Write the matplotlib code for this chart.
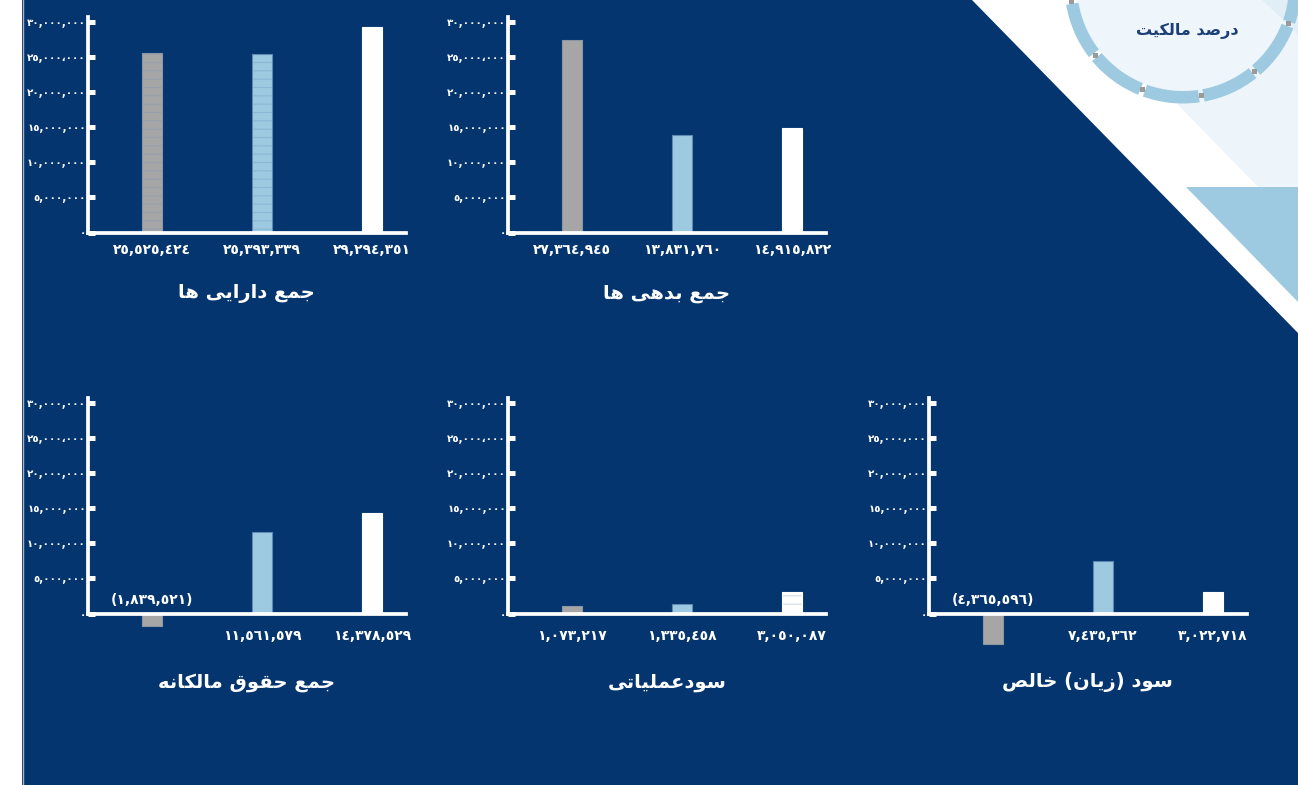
import math
import matplotlib
matplotlib.use("Agg")
import matplotlib.pyplot as plt
from matplotlib.patches import Polygon, Rectangle, Wedge, Circle
from matplotlib import font_manager, ft2font

# ---------------- data ----------------
titles = ["جمع دارایی ها", "جمع بدهی ها", "جمع حقوق مالکانه", "سودعملیاتی", "سود (زیان) خالص"]
total_assets = [25525424, 25393339, 29294351]
total_liabilities = [27364945, 13831760, 14915822]
total_equity = [-1839521, 11561579, 14378529]
operating_profit = [1073217, 1335458, 3050087]
net_profit = [-4365596, 7435362, 3022718]
y_ticks = [0, 5000000, 10000000, 15000000, 20000000, 25000000, 30000000]
y_tick_labels = ["٠", "٥,٠٠٠,٠٠٠", "١٠,٠٠٠,٠٠٠", "١٥,٠٠٠,٠٠٠", "٢٠,٠٠٠,٠٠٠", "٢٥,٠٠٠،٠٠٠", "٣٠,٠٠٠,٠٠٠"]
badge_text = "درصد مالکیت"

# ---------------- style ----------------
W, H = 1298, 785
BG = "#04356F"
BAR_COLORS = ["#A6A6A6", "#9ECAE1", "#FFFFFF"]
EDGE_COLORS = ["#8C96A3", "#5F89B4", "#FFFFFF"]
HATCH_COLORS = ["#97A0AC", "#8CB8D6", "#D3DAE6"]
FONT = ["DejaVu Sans"]

# ---------- minimal Arabic/Persian shaping (matplotlib has no shaping) ----------
FORMS = {
    "ا": (0xFE8D, 0xFE8E, None, None), "ب": (0xFE8F, 0xFE90, 0xFE91, 0xFE92),
    "ت": (0xFE95, 0xFE96, 0xFE97, 0xFE98), "ج": (0xFE9D, 0xFE9E, 0xFE9F, 0xFEA0),
    "ح": (0xFEA1, 0xFEA2, 0xFEA3, 0xFEA4), "خ": (0xFEA5, 0xFEA6, 0xFEA7, 0xFEA8),
    "د": (0xFEA9, 0xFEAA, None, None), "ر": (0xFEAD, 0xFEAE, None, None),
    "ز": (0xFEAF, 0xFEB0, None, None), "س": (0xFEB1, 0xFEB2, 0xFEB3, 0xFEB4),
    "ص": (0xFEB9, 0xFEBA, 0xFEBB, 0xFEBC), "ع": (0xFEC9, 0xFECA, 0xFECB, 0xFECC),
    "ق": (0xFED5, 0xFED6, 0xFED7, 0xFED8), "ل": (0xFEDD, 0xFEDE, 0xFEDF, 0xFEE0),
    "م": (0xFEE1, 0xFEE2, 0xFEE3, 0xFEE4), "ن": (0xFEE5, 0xFEE6, 0xFEE7, 0xFEE8),
    "ه": (0xFEE9, 0xFEEA, 0xFEEB, 0xFEEC), "و": (0xFEED, 0xFEEE, None, None),
    "ی": (0xFBFC, 0xFBFD, 0xFBFE, 0xFBFF), "ک": (0xFB8E, 0xFB8F, 0xFB90, 0xFB91),
}
try:
    _cm = None
    for wt in ("normal", "bold"):
        p = font_manager.findfont(font_manager.FontProperties(family="DejaVu Sans", weight=wt))
        keys = set(ft2font.FT2Font(p).get_charmap().keys())
        _cm = keys if _cm is None else (_cm & keys)
    if 0xFBFC not in _cm:
        FORMS["ی"] = (0xFEEF, 0xFEF0, 0xFEF3, 0xFEF4)
    if 0xFB8E not in _cm:
        FORMS["ک"] = (0xFED9, 0xFEDA, 0xFEDB, 0xFEDC)
except Exception:
    pass


def shape(s):
    out = []
    for i, c in enumerate(s):
        if c not in FORMS:
            out.append(c)
            continue
        f = FORMS[c]
        prev = s[i - 1] if i > 0 else None
        nxt = s[i + 1] if i + 1 < len(s) else None
        jp = prev in FORMS and FORMS[prev][2] is not None
        jn = f[2] is not None and nxt in FORMS
        if jp and jn:
            g = f[3]
        elif jp:
            g = f[1]
        elif jn:
            g = f[2]
        else:
            g = f[0]
        out.append(chr(g))
    vis = "".join(reversed(out))
    return vis.translate(str.maketrans("()", ")("))


AR_DIGITS = str.maketrans("0123456789", "٠١٢٣٤٥٦٧٨٩")


def fmt(v):
    s = f"{abs(v):,}".translate(AR_DIGITS)
    return f"({s})" if v < 0 else s


# ---------------- figure & decoration ----------------
fig = plt.figure(figsize=(W / 100, H / 100), dpi=100)
fig.patch.set_facecolor(BG)
bg = fig.add_axes([0, 0, 1, 1])
bg.set_xlim(0, W)
bg.set_ylim(H, 0)
bg.axis("off")
bg.set_zorder(-10)

bg.add_patch(Rectangle((0, 0), 22, H, color="white", lw=0))
bg.plot([22.6, 22.6], [0, H], color="#AEB4BE", lw=1.0)
bg.add_patch(Polygon([(972, 0), (W, 0), (W, 333)], closed=True, color="white", lw=0))
bg.add_patch(Polygon([(1076, 0), (W, 0), (W, 187), (1258, 187)], closed=True, color="#EDF5FA", lw=0))
bg.add_patch(Polygon([(1186, 187), (W, 187), (W, 302)], closed=True, color="#9ECAE1", lw=0))

cx, cy, r_out, ring_w = 1183, -15, 118.5, 12.5
bg.add_patch(Circle((cx, cy), r_out - ring_w + 0.5, color="#EEF6FB", lw=0))
bg.add_patch(Polygon([(1262, 0), (W, 0), (W, 34)], closed=True, color="#E2EEF6", lw=0))
gaps = [-10.0, 20.3, 50.5, 80.7, 111.0, 141.3, 171.6, 201.9]
for a0, a1 in zip(gaps[:-1], gaps[1:]):
    bg.add_patch(Wedge((cx, cy), r_out, a0 + 1.2, a1 - 1.2, width=ring_w, color="#9ECAE1", lw=0))
for a in gaps:
    rr = r_out - ring_w / 2
    bg.add_patch(Rectangle((cx + rr * math.cos(math.radians(a)) - 2.5, cy + rr * math.sin(math.radians(a)) - 2.5),
                           5, 5, color="#9A9A9A", lw=0))
bg.text(1187, 31, shape(badge_text), ha="center", va="center", fontsize=11.5, fontweight="bold",
        color="#1D3F77", family=FONT)

# ---------------- charts ----------------
series = [total_assets, total_liabilities, total_equity, operating_profit, net_profit]
hatches = [["--", "--", None], [None, None, None], [None, None, None], [None, None, "--"], [None, None, None]]
# (spine x px, zero-line y px, label offset px, title y px)
layout = [(88, 232.5, 17.5, 294), (508, 232.5, 17.5, 294),
          (88, 613.5, 23, 682), (508, 613.5, 23, 682), (929, 613.5, 23, 682)]
PXM = 7.02            # pixels per million
YMIN, YMAX = -5e6, 30.75e6
AX_W = 317.5
X0, DX = 64.0, 110.0
plt.rcParams["hatch.linewidth"] = 0.8

for vals, title, hat, (sx, zy, loff, ty) in zip(series, titles, hatches, layout):
    h_px = (YMAX - YMIN) / 1e6 * PXM
    bottom_px = zy - YMIN / 1e6 * PXM
    ax = fig.add_axes([sx / W, (H - bottom_px) / H, AX_W / W, h_px / H])
    ax.set_facecolor("none")
    ax.set_xlim(-X0 / DX, (AX_W - X0) / DX)
    ax.set_ylim(YMIN, YMAX)
    xs = list(range(len(vals)))
    bw = 20 / DX
    for x, v, c, ec, hc, h in zip(xs, vals, BAR_COLORS, EDGE_COLORS, HATCH_COLORS, hat):
        if h:
            ax.bar(x, v, width=bw, color=c, edgecolor=hc, linewidth=0, hatch=h, zorder=2)
            ax.bar(x, v, width=bw, fill=False, edgecolor=ec, linewidth=0.8, zorder=3)
        else:
            ax.bar(x, v, width=bw, color=c, edgecolor=ec, linewidth=0.8, zorder=2)
        dy = 13.5 if v < 0 else -loff
        ax.annotate(fmt(v), xy=(x, 0), xytext=(0, dy * 0.72), textcoords="offset points",
                    ha="center", va="center", fontsize=10, fontweight="bold", color="white",
                    family=FONT)
    for s in ("top", "right"):
        ax.spines[s].set_visible(False)
    ax.spines["left"].set_bounds(0, YMAX)
    ax.spines["bottom"].set_position(("data", 0))
    for s in ("left", "bottom"):
        ax.spines[s].set_color("white")
        ax.spines[s].set_linewidth(2.7)
        ax.spines[s].set_capstyle("projecting")
        ax.spines[s].set_zorder(4)
    ax.set_xticks([])
    ax.set_yticks(y_ticks, y_tick_labels)
    ax.tick_params(axis="y", direction="in", length=5, width=3.6, color="white",
                   labelcolor="white", labelsize=7.5, pad=1.5)
    for lab in ax.get_yticklabels():
        lab.set_family(FONT)
        lab.set_fontweight("bold")
    fig.text((sx + AX_W / 2) / W, 1 - ty / H, shape(title), ha="center", va="center",
             fontsize=14, fontweight="bold", color="white", family=FONT)

fig.savefig("out.png", dpi=100, facecolor=fig.get_facecolor())
